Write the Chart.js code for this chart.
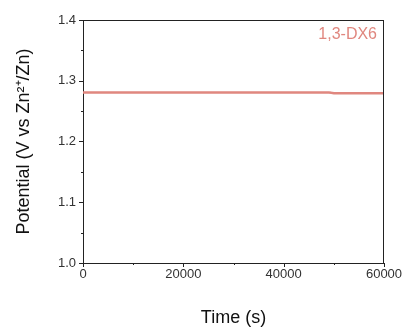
<!DOCTYPE html>
<html lang="en">
<head>
    <meta charset="UTF-8">
    <title>Potential vs Time</title>
    <script src="https://cdn.jsdelivr.net/npm/chart.js"></script>
    <style>
        html, body { margin: 0; padding: 0; background: #fff; }
        #wrap { width: 407px; height: 334px; }
    </style>
</head>
<body>
    <div id="wrap"><canvas id="potChart" width="407" height="334"></canvas></div>

    <script>
        // data
        const timeS = [0, 10000, 20000, 30000, 40000, 49000, 49500, 50000, 55000, 60000];
        const potential = [1.2808, 1.2808, 1.2808, 1.2808, 1.2808, 1.2808, 1.2801, 1.2795, 1.2794, 1.2794];
        const seriesName = '1,3-DX6';
        const xTicks = [0, 20000, 40000, 60000];
        const yTicks = [1.0, 1.1, 1.2, 1.3, 1.4];

        const lineColor = '#e0877f';
        const axisColor = '#222';

        // outward major/minor tick marks, box, series label
        const frame = {
            id: 'frame',
            afterDraw(chart) {
                const ctx = chart.ctx;
                const a = chart.chartArea;
                const x = chart.scales.x, y = chart.scales.y;
                ctx.save();
                ctx.strokeStyle = axisColor;
                ctx.lineWidth = 1;
                ctx.beginPath();
                ctx.moveTo(a.left, a.top + 0.5); ctx.lineTo(a.right, a.top + 0.5);
                ctx.moveTo(a.right - 0.5, a.top); ctx.lineTo(a.right - 0.5, a.bottom);
                for (let v = 1.0; v <= 1.4001; v += 0.05) {
                    const py = Math.round(y.getPixelForValue(v)) + 0.5;
                    const major = Math.abs(v * 10 - Math.round(v * 10)) < 1e-6;
                    ctx.moveTo(a.left - (major ? 4 : 2), py);
                    ctx.lineTo(a.left + (major ? 0 : 1), py);
                }
                for (let v = 0; v <= 60000; v += 10000) {
                    const px = Math.round(x.getPixelForValue(v)) + 0.5;
                    const major = v % 20000 === 0;
                    ctx.moveTo(px, a.bottom);
                    ctx.lineTo(px, a.bottom + (major ? 4 : 2));
                }
                ctx.stroke();
                ctx.fillStyle = lineColor;
                ctx.font = '16px "Liberation Sans", Arial, sans-serif';
                ctx.textAlign = 'right';
                ctx.textBaseline = 'middle';
                ctx.fillText(seriesName, a.right - 7, a.top + 15);
                ctx.restore();
            }
        };

        new Chart(document.getElementById('potChart'), {
            type: 'line',
            data: {
                datasets: [{
                    label: seriesName,
                    data: timeS.map((t, i) => ({ x: t, y: potential[i] })),
                    borderColor: lineColor,
                    borderWidth: 2.5,
                    pointRadius: 0,
                    fill: false,
                    tension: 0
                }]
            },
            options: {
                responsive: false,
                animation: false,
                layout: { padding: { left: 0, top: 20, right: 23, bottom: 0 } },
                plugins: { legend: { display: false }, tooltip: { enabled: false } },
                scales: {
                    x: {
                        type: 'linear',
                        min: 0,
                        max: 60000,
                        afterFit(s) { s.height = 71; },
                        afterBuildTicks(s) { s.ticks = xTicks.map(v => ({ value: v })); },
                        grid: { display: false, drawTicks: false },
                        border: { display: true, color: axisColor, width: 1 },
                        ticks: {
                            padding: 4,
                            maxRotation: 0,
                            color: '#333',
                            font: { family: '"Liberation Sans", Arial, sans-serif', size: 13 },
                            callback: v => String(v)
                        },
                        title: {
                            display: true,
                            text: 'Time (s)',
                            color: '#111',
                            font: { family: '"Liberation Sans", Arial, sans-serif', size: 18 },
                            padding: { top: 0, bottom: 5 }
                        }
                    },
                    y: {
                        type: 'linear',
                        min: 1.0,
                        max: 1.4,
                        afterFit(s) { s.width = 83; },
                        afterBuildTicks(s) { s.ticks = yTicks.map(v => ({ value: v })); },
                        grid: { display: false, drawTicks: false },
                        border: { display: true, color: axisColor, width: 1 },
                        ticks: {
                            padding: 7,
                            color: '#333',
                            font: { family: '"Liberation Sans", Arial, sans-serif', size: 13 },
                            callback: v => v.toFixed(1)
                        },
                        title: {
                            display: true,
                            text: 'Potential (V vs Zn²⁺/Zn)',
                            color: '#111',
                            font: { family: '"Liberation Sans", Arial, sans-serif', size: 18 },
                            padding: { top: 13, bottom: 0 }
                        }
                    }
                }
            },
            plugins: [frame]
        });
    </script>
</body>
</html>
